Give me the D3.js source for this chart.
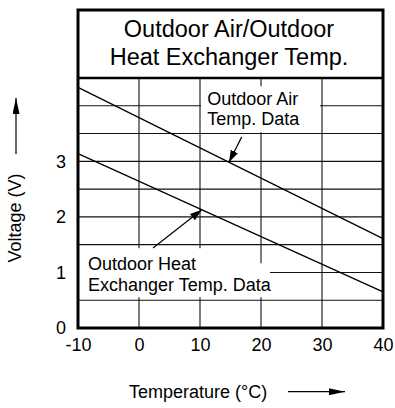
<!DOCTYPE html>
<html>
<head>
<meta charset="utf-8">
<script src="https://cdn.jsdelivr.net/npm/d3@7"></script>
<style>
  html, body { margin: 0; padding: 0; background: #fff; }
  svg { display: block; }
  text { font-family: "Liberation Sans", Arial, Helvetica, sans-serif; fill: #000; }
</style>
</head>
<body>
<script>
// Sensor characteristic: thermistor output voltage vs. temperature
const temps = [-10, 40];                 // °C, ends of each straight characteristic
const airVolts = [4.33, 1.61];           // Outdoor Air Temp. Data (V)
const hexVolts = [3.14, 0.65];           // Outdoor Heat Exchanger Temp. Data (V)
const xTicks = [-10, 0, 10, 20, 30, 40];
const yTicks = [0, 1, 2, 3];
const xGrid = [0, 10, 20, 30];
const yGrid = [0.5, 1, 1.5, 2, 2.5, 3, 3.5, 4];
const titleLines = ["Outdoor Air/Outdoor", "Heat Exchanger Temp."];
const airLabel = ["Outdoor Air", "Temp. Data"];
const hexLabel = ["Outdoor Heat", "Exchanger Temp. Data"];

const W = 395, H = 408;
const left = 78, right = 383, bottom = 328, plotTop = 78, frameTop = 10;

const svg = d3.select("body").append("svg").attr("width", W).attr("height", H);

const x = d3.scaleLinear().domain([-10, 40]).range([left, right]);
const y = d3.scaleLinear().domain([0, 4.5]).range([bottom, plotTop]);

const defs = svg.append("defs");
defs.append("marker")
  .attr("id", "head")
  .attr("viewBox", "0 0 12 8")
  .attr("refX", 12).attr("refY", 4)
  .attr("markerWidth", 12).attr("markerHeight", 8)
  .attr("markerUnits", "userSpaceOnUse")
  .attr("orient", "auto")
  .append("path").attr("d", "M0,0 L12,4 L0,8 Z").attr("fill", "#000");
defs.append("marker")
  .attr("id", "bighead")
  .attr("viewBox", "0 0 16 8")
  .attr("refX", 16).attr("refY", 4)
  .attr("markerWidth", 16).attr("markerHeight", 7)
  .attr("markerUnits", "userSpaceOnUse")
  .attr("orient", "auto")
  .attr("preserveAspectRatio", "none")
  .append("path").attr("d", "M0,0 L16,4 L0,8 Z").attr("fill", "#000");

// grid
const grid = svg.append("g").attr("stroke", "#111").attr("stroke-width", 1.1);
grid.selectAll("line.v").data(xGrid).join("line")
  .attr("x1", d => x(d)).attr("x2", d => x(d))
  .attr("y1", y(0)).attr("y2", y(4.5));
grid.selectAll("line.h").data(yGrid).join("line")
  .attr("x1", x(-10)).attr("x2", x(40))
  .attr("y1", d => y(d)).attr("y2", d => y(d));

// data lines
const line = d3.line().x(d => x(d[0])).y(d => y(d[1]));
const airPts = temps.map((t, i) => [t, airVolts[i]]);
const hexPts = temps.map((t, i) => [t, hexVolts[i]]);
svg.append("path").attr("d", line(airPts)).attr("fill", "none").attr("stroke", "#000").attr("stroke-width", 1.3);
svg.append("path").attr("d", line(hexPts)).attr("fill", "none").attr("stroke", "#000").attr("stroke-width", 1.3);

const at = (pts, t) => pts[0][1] + (pts[1][1] - pts[0][1]) * (t - pts[0][0]) / (pts[1][0] - pts[0][0]);

// Outdoor air label with white backing
const airG = svg.append("g");
const airX = x(11.2), airY = y(4.01);
airG.append("rect")
  .attr("x", x(10) + 1).attr("y", airY - 19)
  .attr("width", x(30) - 1 - x(10) - 2).attr("height", 46)
  .attr("fill", "#fff");
airLabel.forEach((s, i) => {
  airG.append("text").attr("x", airX).attr("y", airY + i * 20)
    .attr("font-size", 18).text(s);
});

// Outdoor heat exchanger label with white backing
const hexG = svg.append("g");
const hexX = x(-8.36), hexY = y(1.04);
hexG.append("rect").attr("x", left + 1).attr("y", hexY - 22)
  .attr("width", 146).attr("height", 17).attr("fill", "#fff");
hexG.append("rect").attr("x", left + 1).attr("y", hexY - 7)
  .attr("width", 191).attr("height", 34).attr("fill", "#fff");
hexLabel.forEach((s, i) => {
  hexG.append("text").attr("x", hexX).attr("y", hexY + i * 21)
    .attr("font-size", 18).text(s);
});

// pointers from labels to lines
const pointers = [
  { from: [16.84, 3.44], t: 14.75, pts: airPts },
  { from: [2.3, 1.44], t: 10.3, pts: hexPts }
];
pointers.forEach(p => {
  svg.append("line")
    .attr("x1", x(p.from[0])).attr("y1", y(p.from[1]))
    .attr("x2", x(p.t)).attr("y2", y(at(p.pts, p.t)))
    .attr("stroke", "#000").attr("stroke-width", 1.2)
    .attr("marker-end", "url(#head)");
});

// frame: title box + plot border
svg.append("rect")
  .attr("x", left).attr("y", frameTop)
  .attr("width", right - left).attr("height", bottom - frameTop)
  .attr("fill", "none").attr("stroke", "#000").attr("stroke-width", 3);
svg.append("line")
  .attr("x1", left).attr("x2", right).attr("y1", plotTop).attr("y2", plotTop)
  .attr("stroke", "#000").attr("stroke-width", 2.6);

// title
titleLines.forEach((s, i) => {
  svg.append("text").attr("x", 229).attr("y", 36.7 + i * 28.3)
    .attr("text-anchor", "middle").attr("font-size", 23.5).text(s);
});

// axes (plain hyphen for negative ticks)
const xAxis = d3.axisBottom(x).tickValues(xTicks).tickSize(0).tickPadding(10).tickFormat(d => String(d));
const yAxis = d3.axisLeft(y).tickValues(yTicks).tickSize(0).tickPadding(12).tickFormat(d => String(d));
const gx = svg.append("g").attr("transform", `translate(0,${bottom})`).call(xAxis);
const gy = svg.append("g").attr("transform", `translate(${left},0)`).call(yAxis);
[gx, gy].forEach(g => {
  g.select(".domain").remove();
  g.selectAll("text").attr("font-size", 18)
    .attr("font-family", "'Liberation Sans', Arial, Helvetica, sans-serif").attr("fill", "#000");
});
gx.selectAll("text").attr("dy", "0.71em");

// axis titles with direction arrows
svg.append("text")
  .attr("transform", "translate(21,218) rotate(-90)")
  .attr("text-anchor", "middle").attr("font-size", 18).text("Voltage (V)");
svg.append("line").attr("x1", 16).attr("x2", 16).attr("y1", 154).attr("y2", 98)
  .attr("stroke", "#000").attr("stroke-width", 1.2).attr("marker-end", "url(#bighead)");

svg.append("text").attr("x", 129).attr("y", 398)
  .attr("font-size", 18).text("Temperature (\u00B0C)");
svg.append("line").attr("x1", 288).attr("x2", 345).attr("y1", 391.7).attr("y2", 391.7)
  .attr("stroke", "#000").attr("stroke-width", 1.2).attr("marker-end", "url(#bighead)");
</script>
</body>
</html>
